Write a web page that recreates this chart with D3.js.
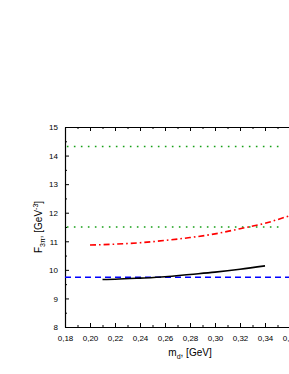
<!DOCTYPE html>
<html>
<head>
<meta charset="utf-8">
<script src="https://cdn.jsdelivr.net/npm/d3@7"></script>
<style>
  body { margin: 0; background: #fff; }
  svg { display: block; }
  text { font-family: "Liberation Sans", Arial, sans-serif; }
</style>
</head>
<body>
<script>
// values
const xTicks = [0.18, 0.20, 0.22, 0.24, 0.26, 0.28, 0.30, 0.32, 0.34, 0.36];
const yTicks = [8, 9, 10, 11, 12, 13, 14, 15];

const solidX = [0.21, 0.22, 0.24, 0.26, 0.28, 0.30, 0.32, 0.34];
const solidY = [9.66, 9.67, 9.71, 9.76, 9.84, 9.92, 10.02, 10.14];

const dashDotX = [0.20, 0.22, 0.24, 0.26, 0.28, 0.30, 0.32, 0.34, 0.36];
const dashDotY = [10.87, 10.90, 10.95, 11.03, 11.13, 11.26, 11.44, 11.63, 11.90];

const blueLevel = 9.74;
const greenLevels = [14.32, 11.5];

const W = 289, H = 374;
const margin = {left: 65, top: 127, right: -1, bottom: 47};

const svg = d3.select('body').append('svg')
    .attr('width', W)
    .attr('height', H);

const x = d3.scaleLinear().domain([0.18, 0.36]).range([margin.left, W - margin.right]);
const y = d3.scaleLinear().domain([8, 15]).range([H - margin.bottom, margin.top]);

const fmt = v => d3.format('.2f')(v).replace('.', ',');

const minorX = d3.range(0.19, 0.36, 0.02);
const minorY = d3.range(8.5, 15, 1);

// axes, ticks pointing inward
let axBottom = svg.append('g').attr('transform', `translate(0,${y(8)})`)
    .call(d3.axisBottom(x).tickValues(xTicks).tickFormat(fmt).tickSizeInner(-4).tickSizeOuter(0).tickPadding(8));
let axTop = svg.append('g').attr('transform', `translate(0,${y(15)})`)
    .call(d3.axisTop(x).tickValues(xTicks).tickFormat('').tickSizeInner(-4).tickSizeOuter(0));
let axLeft = svg.append('g').attr('transform', `translate(${x(0.18)},0)`)
    .call(d3.axisLeft(y).tickValues(yTicks).tickFormat(d3.format('d')).tickSizeInner(-4).tickSizeOuter(0).tickPadding(7));

svg.append('g').attr('transform', `translate(0,${y(8)})`)
    .call(d3.axisBottom(x).tickValues(minorX).tickFormat('').tickSizeInner(-2).tickSizeOuter(0))
    .select('.domain').remove();
svg.append('g').attr('transform', `translate(0,${y(15)})`)
    .call(d3.axisTop(x).tickValues(minorX).tickFormat('').tickSizeInner(-2).tickSizeOuter(0))
    .select('.domain').remove();
svg.append('g').attr('transform', `translate(${x(0.18)},0)`)
    .call(d3.axisLeft(y).tickValues(minorY).tickFormat('').tickSizeInner(-2).tickSizeOuter(0))
    .select('.domain').remove();

svg.selectAll('.domain').attr('stroke', '#000').attr('stroke-width', 1.2);
svg.selectAll('.tick line').attr('stroke', '#000').attr('stroke-width', 1);
svg.selectAll('.tick text').attr('font-size', 8).attr('fill', '#000')
    .style('font-family', '"Liberation Sans", Arial, sans-serif');
axLeft.selectAll('.tick text').attr('dy', '0.35em');

// horizontal reference lines
svg.selectAll('.green').data(greenLevels).enter().append('line')
    .attr('x1', x(0.1815)).attr('x2', x(0.3535))
    .attr('y1', d => y(d)).attr('y2', d => y(d))
    .attr('stroke', '#17a017').attr('stroke-width', 1.6)
    .attr('stroke-dasharray', '1.6,5.4');

svg.append('line')
    .attr('x1', x(0.18)).attr('x2', x(0.36))
    .attr('y1', y(blueLevel)).attr('y2', y(blueLevel))
    .attr('stroke', '#0000ff').attr('stroke-width', 1.6)
    .attr('stroke-dasharray', '6,4');

const line = d3.line().curve(d3.curveMonotoneX).x(d => x(d[0])).y(d => y(d[1]));

svg.append('path')
    .datum(dashDotX.map((v, i) => [v, dashDotY[i]]))
    .attr('d', line)
    .attr('fill', 'none').attr('stroke', '#ff0000').attr('stroke-width', 1.6)
    .attr('stroke-dasharray', '6,3,1.6,3');

svg.append('path')
    .datum(solidX.map((v, i) => [v, solidY[i]]))
    .attr('d', line)
    .attr('fill', 'none').attr('stroke', '#000').attr('stroke-width', 1.6);

// axis titles
let xt = svg.append('text').attr('x', 190).attr('y', 356)
    .attr('text-anchor', 'middle').attr('font-size', 10);
xt.append('tspan').text('m');
xt.append('tspan').attr('font-size', 7).attr('dy', 3).text('d');
xt.append('tspan').attr('dy', -3).text(', [GeV]');

let yt = svg.append('text').attr('transform', `translate(42,${y(11.5)}) rotate(-90)`)
    .attr('text-anchor', 'middle').attr('font-size', 10);
yt.append('tspan').text('F');
yt.append('tspan').attr('font-size', 7).attr('dy', 3).text('3π');
yt.append('tspan').attr('dy', -3).text(', [GeV');
yt.append('tspan').attr('font-size', 7).attr('dy', -4).text('-3');
yt.append('tspan').attr('dy', 4).text(']');
</script>
</body>
</html>
